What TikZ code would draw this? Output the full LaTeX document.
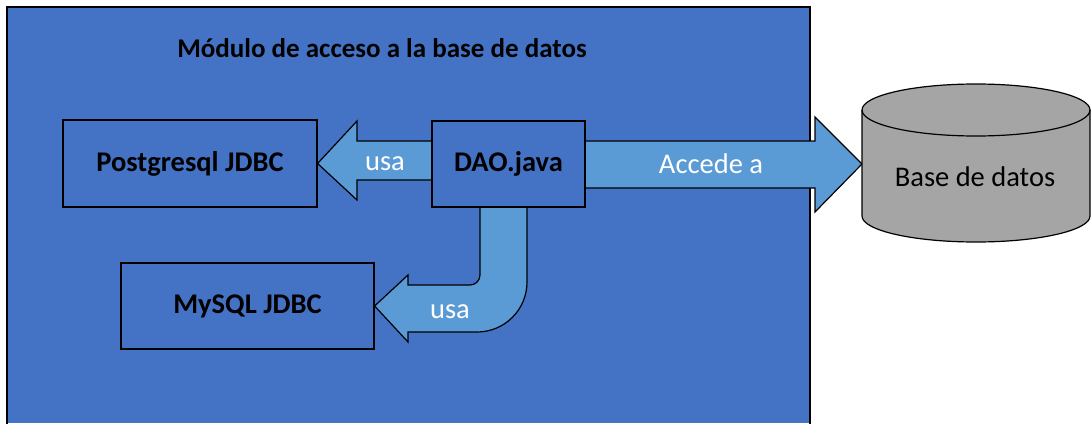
\documentclass[tikz,border=0pt]{standalone}
\usepackage{fontspec}
\setmainfont{Carlito}
\usetikzlibrary{calc}
\definecolor{modblue}{HTML}{4472C4}
\definecolor{arrblue}{HTML}{5B9BD5}
\definecolor{dbgray}{HTML}{A5A5A5}
\tikzset{
  x=1pt,y=1pt,
  box/.style={draw=black, line width=1.2pt, fill=modblue, inner sep=0pt, font=\fontsize{28.5}{32}\selectfont\bfseries},
  blockarrow/.style={draw=black, line width=1.2pt, fill=arrblue, line join=miter},
  lbl/.style={anchor=base, text=white, inner sep=0pt, font=\fontsize{28.5}{32}\selectfont},
}
\begin{document}
\begin{tikzpicture}
\useasboundingbox (0,0) rectangle (1091,-423);
% module container
\fill[modblue] (7,-7) rectangle (810,-423);
\draw[line width=1.6pt] (7,-424) -- (7,-7) -- (810,-7) -- (810,-424);
\node[anchor=base, inner sep=0pt, font=\fontsize{27}{30}\selectfont\bfseries] (title) at (382,-57) {Módulo de acceso a la base de datos};

% boxes
\node[box, minimum width=254pt, minimum height=87pt] (pg) at (190,-163.5) {Postgresql JDBC};
\node[box, minimum width=253pt, minimum height=86pt] (my) at (247.5,-306) {MySQL JDBC};

% block arrows (behind DAO box)
\draw[blockarrow] (432,-141) -- (357,-141) -- (357,-121) -- (pg.east) -- (357,-200) -- (357,-180) -- (432,-180) -- cycle;
\draw[blockarrow] (480,-207) -- (480,-275) arc (0:-90:10) -- (408,-285) -- (408,-275) -- (my.east) -- (408,-342) -- (408,-332) -- (477,-332) arc (-90:0:50) -- (527,-207) -- cycle;
\draw[blockarrow] (585,-141) -- (815,-141) -- (815,-117) -- (862,-164) -- (815,-212) -- (815,-188) -- (585,-188) -- cycle;

\node[box, minimum width=153pt, minimum height=86pt] (dao) at (508.5,-164) {DAO.java};

% database cylinder
\filldraw[fill=dbgray, draw=black, line width=1.2pt] (862,-110) -- (862,-216) arc (180:360:114 and 26) -- (1090,-110) arc (0:180:114 and 26) -- cycle;
\draw[line width=1.2pt] (862,-110) arc (180:360:114 and 26);
\node[anchor=base, inner sep=0pt, font=\fontsize{28.5}{32}\selectfont] (db) at (975,-186) {Base de datos};

% arrow labels
\node[lbl] (usa1) at (385,-170) {usa};
\node[lbl] (usa2) at (450,-318) {usa};
\node[lbl] (acc) at (711,-173) {Accede a};
\end{tikzpicture}
\end{document}
